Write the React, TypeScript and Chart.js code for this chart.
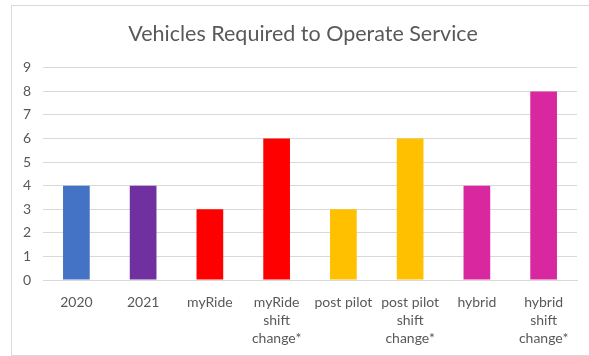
import React, { useEffect, useRef } from "react";
import { Chart, registerables } from "chart.js";

Chart.register(...registerables);

const categories: string[][] = [
  ["2020"],
  ["2021"],
  ["myRide"],
  ["myRide", "shift", "change*"],
  ["post pilot"],
  ["post pilot", "shift", "change*"],
  ["hybrid"],
  ["hybrid", "shift", "change*"],
];
const vehicles: number[] = [4, 4, 3, 6, 3, 6, 4, 8];
const barColors: string[] = [
  "#4472C4",
  "#7030A0",
  "#FF0000",
  "#FF0000",
  "#FFC000",
  "#FFC000",
  "#D9289F",
  "#D9289F",
];
const titleText = "Vehicles Required to Operate Service";
const yMin = 0;
const yMax = 9;

const FONT = "Lato, 'Liberation Sans', sans-serif";

const titleShift = {
  id: "titleShift",
  beforeDraw(chart: any) {
    const t = chart.titleBlock;
    if (t && !t._shifted) {
      t.left += 9;
      t.right += 9;
      t._shifted = true;
    }
  },
};

export default function App() {
  const ref = useRef<HTMLCanvasElement | null>(null);
  useEffect(() => {
    if (!ref.current) return;
    const chart = new Chart(ref.current, {
      type: "bar",
      data: {
        labels: categories,
        datasets: [
          {
            data: vehicles,
            backgroundColor: barColors,
            borderWidth: 0,
            categoryPercentage: 0.8,
            barPercentage: 0.5,
          },
        ],
      },
      plugins: [titleShift],
      options: {
        animation: false,
        responsive: false,
        maintainAspectRatio: false,
        layout: { padding: { left: 11, right: 12, top: 0, bottom: 4 } },
        plugins: {
          legend: { display: false },
          tooltip: { enabled: false },
          title: {
            display: true,
            text: titleText,
            color: "#595959",
            font: { family: FONT, size: 21.5, weight: "normal" },
            padding: { top: 21, bottom: 21 },
          },
        },
        scales: {
          x: {
            grid: { display: false },
            border: { display: true, color: "#D9D9D9" },
            ticks: {
              color: "#595959",
              font: { family: FONT, size: 14, lineHeight: 1.3 },
              maxRotation: 0,
              autoSkip: false,
              padding: 5,
            },
            afterFit: (s: any) => {
              s.height = 72;
            },
          },
          y: {
            min: yMin,
            max: yMax,
            grid: { color: "#D9D9D9", drawTicks: false },
            border: { display: false },
            ticks: {
              stepSize: 1,
              color: "#595959",
              font: { family: FONT, size: 14 },
              padding: 12,
            },
            afterFit: (s: any) => {
              s.width = 32;
            },
          },
        },
      },
    });
    return () => chart.destroy();
  }, []);
  return (
    <div
      style={{
        position: "absolute",
        left: 0,
        top: 0,
        width: 589,
        height: 356,
        overflow: "hidden",
        background: "#fff",
      }}
    >
      <div
        style={{
          position: "absolute",
          left: 11,
          top: 5,
          width: 600,
          height: 349,
          border: "1px solid #D9D9D9",
        }}
      />
      <canvas
        ref={ref}
        width={589}
        height={356}
        style={{ position: "absolute", left: 0, top: 0, width: 589, height: 356 }}
      />
    </div>
  );
}
